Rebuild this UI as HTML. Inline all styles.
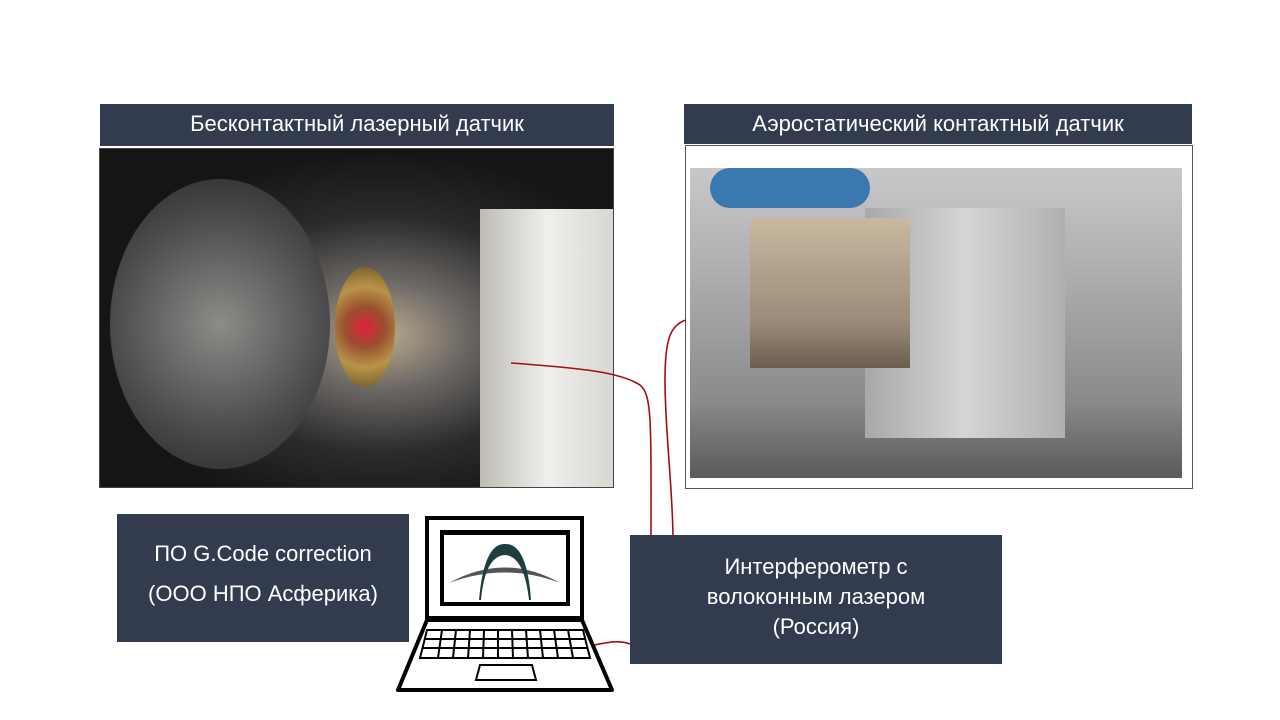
<!DOCTYPE html>
<html><head><meta charset="utf-8"><style>
body{margin:0;width:1280px;height:720px;background:#fff;position:relative;overflow:hidden;font-family:"Liberation Sans","DejaVu Sans",sans-serif}
.hdr{position:absolute;background:#323c4e;color:#fff;font-size:22px;text-align:center;line-height:40px}
.box{position:absolute;background:#323c4e;color:#fff;font-size:22px;text-align:center}
</style></head><body>
<div class="hdr" style="left:100px;top:104px;width:514px;height:42px;">Бесконтактный лазерный датчик</div>
<div class="hdr" style="left:684px;top:104px;width:508px;height:40px;">Аэростатический контактный датчик</div>
<div style="position:absolute;left:99px;top:148px;width:515px;height:340px;background:radial-gradient(ellipse at 55% 55%,#b9aa8c 0,#6e6a66 20%,#2b2b2d 45%,#151516 70%),#222;border:1px solid #444;box-sizing:border-box;overflow:hidden">
 <div style="position:absolute;left:380px;top:60px;width:135px;height:280px;background:linear-gradient(90deg,#bdbbb4,#efefec 50%,#d8d6d0)"></div>
 <div style="position:absolute;left:10px;top:30px;width:220px;height:290px;border-radius:50%;background:radial-gradient(circle,#8e8c88,#4a4a4c 60%,#262628)"></div>
 <div style="position:absolute;left:235px;top:118px;width:60px;height:120px;border-radius:50%;background:radial-gradient(circle,#e0203c 0,#9a5030 30%,#b89448 60%,#6a5528)"></div>
</div>
<div style="position:absolute;left:685px;top:145px;width:508px;height:344px;border:1px solid #555;box-sizing:border-box;background:#fff">
 <div style="position:absolute;left:4px;top:22px;width:492px;height:310px;background:linear-gradient(180deg,#c8c8ca 0,#a9a9ab 40%,#8a8a8c 75%,#5a5a5c);overflow:hidden">
  <div style="position:absolute;left:175px;top:40px;width:200px;height:230px;background:linear-gradient(90deg,#a8a8aa,#d5d5d7 50%,#b0b0b2)"></div>
  <div style="position:absolute;left:60px;top:50px;width:160px;height:150px;background:linear-gradient(180deg,#c9b9a0,#9a8a78 70%,#6a5e50)"></div>
  <div style="position:absolute;left:20px;top:0;width:160px;height:40px;background:#3a78b0;border-radius:20px"></div>
 </div>
</div>
<svg style="position:absolute;left:0;top:0" width="1280" height="720">
 <g fill="none" stroke="#a01010" stroke-width="1.6">
  <path d="M511 363 C580 368 620 372 640 385 C652 395 651 420 651 535"/>
  <path d="M686 320 C670 325 665 340 665 380 C665 430 672 480 673 535"/>
  <path d="M594 645 C610 642 620 640 630 644"/>
 </g>
 <rect x="427" y="518" width="155" height="100" fill="#fff" stroke="#000" stroke-width="4"/>
 <rect x="440" y="530" width="130" height="76" fill="#000"/>
 <rect x="444" y="535" width="122" height="67" fill="#fff"/>
 <path d="M449 583 Q505 552 560 583 Q505 562 449 583Z" fill="#555"/>
 <path d="M479 600 Q484 543 505 544 Q527 543 531 600 L529 600 Q524 556 505 555 Q485 556 481 600Z" fill="#1e3e40"/>
 <path d="M427 620 L582 620 L612 690 L398 690 Z" fill="#fff" stroke="#000" stroke-width="4" stroke-linejoin="round"/>
 <g stroke="#000" stroke-width="2" fill="none">
  <path d="M427 630 L583 630 L590 658 L420 658 Z"/>
  <line x1="424" y1="639" x2="586" y2="639"/><line x1="422" y1="648" x2="588" y2="648"/>
  <line x1="442" y1="630" x2="438" y2="658"/><line x1="456" y1="630" x2="453" y2="658"/>
  <line x1="470" y1="630" x2="468" y2="658"/><line x1="484" y1="630" x2="483" y2="658"/>
  <line x1="498" y1="630" x2="498" y2="658"/><line x1="512" y1="630" x2="513" y2="658"/>
  <line x1="526" y1="630" x2="528" y2="658"/><line x1="540" y1="630" x2="543" y2="658"/>
  <line x1="554" y1="630" x2="558" y2="658"/><line x1="568" y1="630" x2="573" y2="658"/>
  <path d="M480 665 L532 665 L536 680 L476 680 Z"/>
 </g>
</svg>
<div class="box" style="left:117px;top:514px;width:292px;height:128px;line-height:40px;padding-top:20px;box-sizing:border-box">ПО G.Code correction<br>(ООО НПО Асферика)</div>
<div class="box" style="left:630px;top:535px;width:372px;height:129px;line-height:30px;padding-top:17px;box-sizing:border-box">Интерферометр с<br>волоконным лазером<br>(Россия)</div>
</body></html>
